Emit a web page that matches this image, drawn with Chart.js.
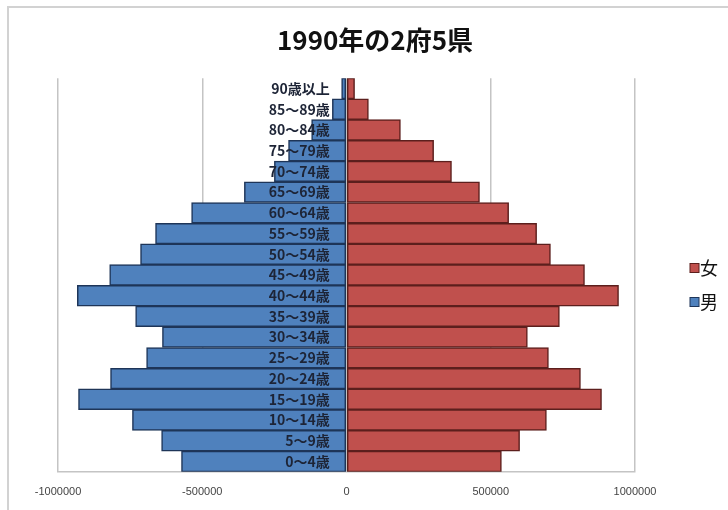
<!DOCTYPE html>
<html>
<head>
<meta charset="utf-8">
<script src="https://cdn.jsdelivr.net/npm/chart.js@4/dist/chart.umd.min.js"></script>
<style>
  html, body { margin: 0; padding: 0; background: #ffffff; }
  #wrap { position: relative; width: 728px; height: 510px; overflow: hidden; }
  #frame { position: absolute; left: 7px; top: 6px; width: 760px; height: 560px;
           border-left: 2px solid #d2d2d2; border-top: 2px solid #d2d2d2; }
  canvas { position: absolute; left: 0; top: 0; }
</style>
</head>
<body>
<div id="wrap">
  <div id="frame"></div>
  <canvas id="chart" width="728" height="510"></canvas>
</div>
<script>
// Age groups, youngest first (the axis is reversed so 90+ sits on top)
const ageGroups = ['0～4歳', '5～9歳', '10～14歳', '15～19歳', '20～24歳', '25～29歳',
  '30～34歳', '35～39歳', '40～44歳', '45～49歳', '50～54歳', '55～59歳', '60～64歳',
  '65～69歳', '70～74歳', '75～79歳', '80～84歳', '85～89歳', '90歳以上'];

// Population by age group, 1990
const malePop = [572000, 641000, 742000, 929000, 818000, 693000, 638000, 731000, 933000,
  821000, 714000, 662000, 537000, 354000, 250000, 201000, 121000, 49000, 17000];
const femalePop = [537000, 600000, 693000, 884000, 811000, 700000, 627000, 738000, 943000,
  825000, 707000, 659000, 562000, 461000, 364000, 302000, 187000, 76000, 28000];

const xTicks = [-1000000, -500000, 0, 500000, 1000000];
const titleText = '1990年の2府5県';
const seriesNames = { male: '男', female: '女' };

const JP = '"Noto Sans CJK JP", "Noto Sans", sans-serif';

// Centre the title across the whole frame rather than the plot area,
// and draw the legend at the right edge.
const sidePieces = {
  id: 'sidePieces',
  afterLayout(chart) {
    if (chart.titleBlock) {
      chart.titleBlock.left = 22;
      chart.titleBlock.right = chart.width;
    }
  },
  afterDraw(chart) {
    const ctx = chart.ctx;
    const sets = chart.data.datasets.slice().reverse();
    ctx.save();
    ctx.font = '18px ' + JP;
    ctx.textBaseline = 'middle';
    ctx.textAlign = 'left';
    sets.forEach((ds, i) => {
      const y = 268 + i * 34;
      ctx.fillStyle = ds.backgroundColor;
      ctx.strokeStyle = ds.borderColor;
      ctx.lineWidth = 1;
      ctx.fillRect(690, y - 4.5, 9, 9);
      ctx.strokeRect(690, y - 4.5, 9, 9);
      ctx.fillStyle = '#111111';
      ctx.fillText(ds.label, 700, y);
    });
    ctx.restore();
  }
};

new Chart(document.getElementById('chart'), {
  type: 'bar',
  data: {
    labels: ageGroups,
    datasets: [
      {
        label: seriesNames.male,
        data: malePop.map(v => -v),
        backgroundColor: '#4F81BD',
        borderColor: '#1E3558',
        borderWidth: 1.5,
        borderSkipped: false,
        categoryPercentage: 1.0,
        barPercentage: 1.0
      },
      {
        label: seriesNames.female,
        data: femalePop,
        backgroundColor: '#C0504D',
        borderColor: '#5C1F1D',
        borderWidth: 1.5,
        borderSkipped: false,
        categoryPercentage: 1.0,
        barPercentage: 1.0
      }
    ]
  },
  options: {
    indexAxis: 'y',
    responsive: false,
    animation: false,
    layout: { padding: { left: 58, right: 93, top: 7, bottom: -3 } },
    plugins: {
      legend: { display: false },
      tooltip: { enabled: false },
      title: {
        display: true,
        text: titleText,
        color: '#111111',
        font: { family: JP, size: 26, weight: 'bold' },
        padding: { top: 18, bottom: 22 }
      }
    },
    scales: {
      x: {
        stacked: true,
        min: -1000000,
        max: 1000000,
        afterBuildTicks(scale) { scale.ticks = xTicks.map(v => ({ value: v })); },
        grid: { color: '#c4c4c4', lineWidth: 1.5, drawTicks: false },
        border: { display: true, color: '#c4c4c4', width: 1.5 },
        ticks: {
          padding: 14,
          color: '#444444',
          font: { family: '"Liberation Sans", Arial, sans-serif', size: 11 },
          callback: v => String(v)
        }
      },
      y: {
        stacked: true,
        reverse: true,
        // category labels sit just left of the zero line, over the bars
        position: { x: -58000 },
        grid: { display: false, drawTicks: false },
        border: { display: false },
        ticks: {
          z: 1,
          color: '#1d2436',
          font: { family: JP, size: 14, weight: 'bold' }
        }
      }
    }
  },
  plugins: [sidePieces]
});
</script>
</body>
</html>
